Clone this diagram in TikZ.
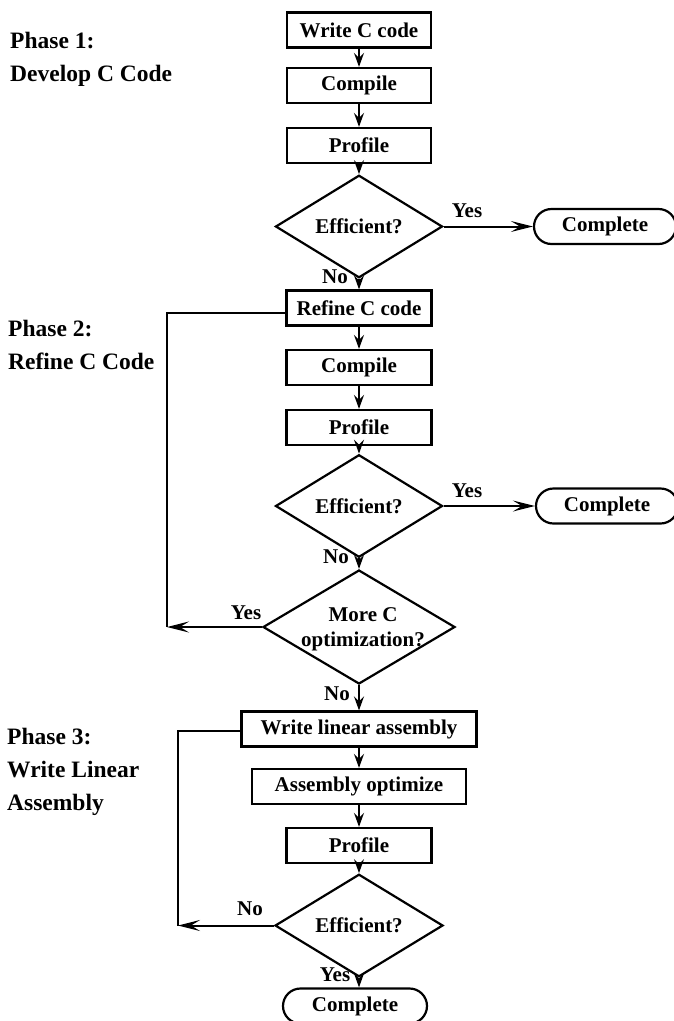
\documentclass[tikz,border=0pt]{standalone}
\usepackage{fontspec}
\setmainfont{Liberation Serif}
\usetikzlibrary{shapes.geometric,shapes.misc,arrows.meta}
\tikzset{
  txt/.style={font=\fontsize{21}{25}\selectfont\bfseries},
  phase/.style={font=\fontsize{23.5}{33}\selectfont\bfseries, anchor=west, align=left, inner sep=0pt},
  stepbox/.style={txt, draw, line width=2.2pt, rectangle, inner sep=0pt, minimum height=35pt},
  decision/.style={txt, draw, line width=2.2pt, diamond, inner sep=0pt},
  term/.style={txt, draw, line width=2.2pt, rounded rectangle, inner sep=0pt, minimum height=35pt},
  lbl/.style={txt, inner sep=0pt},
  varr/.style={line width=2pt, -{Stealth[length=14pt,width=10pt,inset=5pt]}},
  harr/.style={line width=2pt, -{Stealth[length=22pt,width=11pt,inset=9pt]}},
  lin/.style={line width=2pt}
}
\begin{document}
\begin{tikzpicture}[x=1pt,y=-1pt]
\clip (0,0) rectangle (674,1021);
\useasboundingbox (0,0) rectangle (674,1021);

% Phase labels
\node[phase] (p1) at (10,59) {Phase 1:\\Develop C Code};
\node[phase] (p2) at (8,345) {Phase 2:\\Refine C Code};
\node[phase] (p3) at (7,772) {Phase 3:\\Write Linear\\Assembly};

% Phase 1
\node[stepbox, minimum width=144pt] (b1) at (359,30) {Write C code};
\node[stepbox, minimum width=144pt] (b2) at (359,85.5) {Compile};
\node[stepbox, minimum width=144pt] (b3) at (359,145.5) {Profile};
\node[decision, minimum width=167pt, minimum height=82pt] (d1) at (359,226.5) {Efficient?};
\node[term, minimum width=142pt] (c1) at (605,226.5) {Complete};
\node[lbl] (y1) at (467,211) {Yes};
\node[lbl] (n1) at (335,277) {No};

% Phase 2
\node[stepbox, minimum width=145pt] (r1) at (359,308) {Refine C code};
\node[stepbox, minimum width=145pt] (r2) at (359,367.5) {Compile};
\node[stepbox, minimum width=145pt] (r3) at (359,427.5) {Profile};
\node[decision, minimum width=167pt, minimum height=82pt] (d2) at (359,506) {Efficient?};
\node[term, minimum width=142pt] (c2) at (607,506) {Complete};
\node[lbl] (y2) at (467,491) {Yes};
\node[lbl] (n2) at (336,557) {No};
\node[decision, minimum width=192pt, minimum height=114pt,
  label={[txt, align=center, text depth=0pt, xshift=4pt]center:\fontsize{21}{31}\selectfont More C\\ optimization?}] (d3) at (359,627) {};
\node[lbl] (y3) at (246,613) {Yes};
\node[lbl] (n3) at (337,694) {No};
\coordinate (k1) at (167,627);

% Phase 3
\node[stepbox, minimum width=235pt] (a1) at (359,729) {Write linear assembly};
\node[stepbox, minimum width=214pt] (a2) at (359,786.5) {Assembly optimize};
\node[stepbox, minimum width=145pt] (a3) at (359,845.5) {Profile};
\node[decision, minimum width=168pt, minimum height=81pt] (d4) at (359,925.5) {Efficient?};
\node[lbl] (n4) at (250,909) {No};
\node[lbl] (y4) at (335,975) {Yes};
\node[term, minimum width=144pt] (c3) at (355,1006) {Complete};
\coordinate (k2) at (178,925.5);

% Connectors
\draw[varr] (b1) -- (b2);
\draw[varr] (b2) -- (b3);
\draw[varr] (b3) -- (d1);
\draw[harr] (d1.east) -- (c1.west);
\draw[varr] (d1.south) -- (r1.north);
\draw[varr] (r1) -- (r2);
\draw[varr] (r2) -- (r3);
\draw[varr] (r3) -- (d2);
\draw[harr] (d2.east) -- (c2.west);
\draw[varr] (d2.south) -- (d3.north);
\draw[lin] ([yshift=-5pt]r1.west) -| (k1);
\draw[harr] (d3.west) -- (k1);
\draw[varr] (d3.south) -- (a1.north);
\draw[varr] (a1) -- (a2);
\draw[varr] (a2) -- (a3);
\draw[varr] (a3) -- (d4);
\draw[lin] ([yshift=-2pt]a1.west) -| (k2);
\draw[harr] (d4.west) -- (k2);
\draw[varr] (d4.south) -- ([xshift=4pt]c3.north);
\end{tikzpicture}
\end{document}
